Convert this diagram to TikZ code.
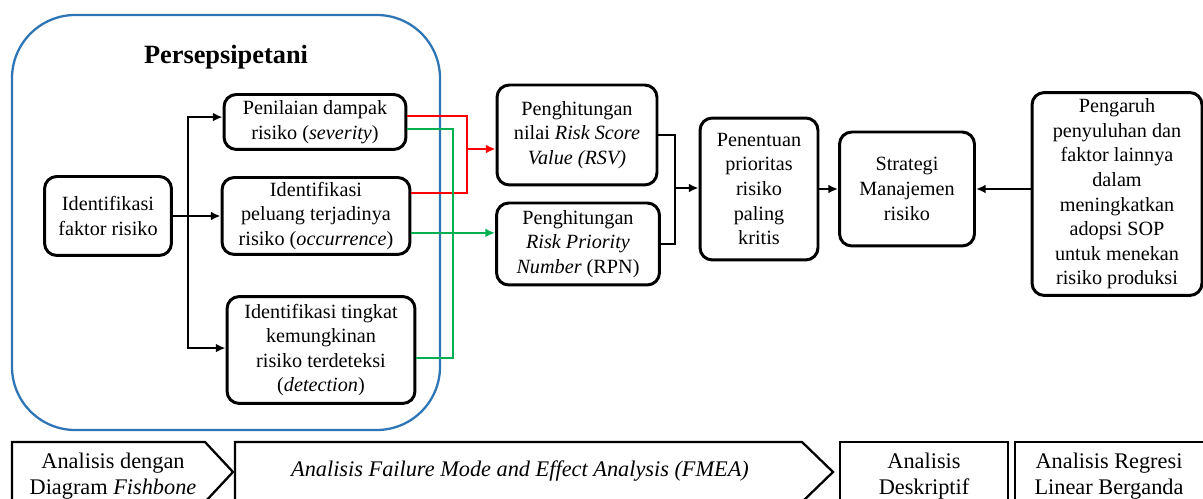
\documentclass[tikz,border=0pt]{standalone}
\usepackage{fontspec}
\setmainfont{Liberation Serif}
\usetikzlibrary{positioning, arrows.meta, calc}
\definecolor{frameblue}{RGB}{46,117,182}
\definecolor{lnred}{RGB}{255,0,0}
\definecolor{lngreen}{RGB}{0,176,80}

\begin{document}
\begin{tikzpicture}[x=0.02cm, y=-0.02cm,
    box/.style={draw, line width=1.7pt, rounded corners=7pt, align=center, inner sep=1pt,
      font=\fontsize{11.5}{14}\selectfont},
    conn/.style={line width=1.1pt},
    redln/.style={line width=1.3pt, lnred},
    grnln/.style={line width=1.3pt, lngreen},
    tip/.style={-{Latex[length=5.5pt,width=5pt]}},
    stage/.style={line width=1.3pt},
    stagetxt/.style={align=center, font=\fontsize{12.7}{14.7}\selectfont}]
    \path[use as bounding box, clip] (0,0) rectangle (1203,499);

    % Persepsi petani
    \draw[frameblue, line width=1.3pt, rounded corners=36pt] (12,15) rectangle (440,430);
    \node[font=\fontsize{15}{18}\selectfont\bfseries] (title) at (226,57) {Persepsipetani};

    \node[box, minimum width=2.54cm, minimum height=1.58cm] (fak) at (108,216) {Identifikasi\\ faktor risiko};
    \node[box, minimum width=3.64cm, minimum height=1.1cm] (pen) at (315,122) {Penilaian dampak\\ risiko (\textit{severity})};
    \node[box, minimum width=3.76cm, minimum height=1.54cm] (pel) at (316,216) {Identifikasi\\ peluang terjadinya\\ risiko (\textit{occurrence})};
    \node[box, minimum width=3.76cm, minimum height=2.14cm] (ting) at (321,350) {Identifikasi tingkat\\ kemungkinan\\ risiko terdeteksi\\ (\textit{detection})};

    % FMEA
    \node[box, minimum width=3.2cm, minimum height=2cm] (rsv) at (577,135) {Penghitungan\\ nilai \textit{Risk Score}\\ \textit{Value (RSV)}};
    \node[box, minimum width=3.26cm, minimum height=1.64cm] (rpn) at (578,244) {Penghitungan\\ \textit{Risk Priority}\\ \textit{Number} (RPN)};
    \node[box, minimum width=2.36cm, minimum height=2.84cm] (prior) at (759,189) {Penentuan\\ prioritas\\ risiko\\ paling\\ kritis};
    \node[box, minimum width=2.7cm, minimum height=2.28cm] (strat) at (907,189) {Strategi\\ Manajemen\\ risiko};
    \node[box, minimum width=3.4cm, minimum height=4.06cm] (peng) at (1117,194) {Pengaruh\\ penyuluhan dan\\ faktor lainnya\\ dalam\\ meningkatkan\\ adopsi SOP\\ untuk menekan\\ risiko produksi};

    % black connectors
    \coordinate (trunk) at (188,216);
    \draw[conn] (fak.east) -- (trunk);
    \draw[conn, tip] (trunk) |- ([yshift=2.8pt]pen.west);
    \draw[conn, tip] (trunk) -- (pel.west);
    \draw[conn, tip] (trunk) |- ([yshift=1.1pt]ting.west);

    % red lines
    \coordinate (rj) at (467,149);
    \draw[redln] ([yshift=3.4pt]pen.east) -| (rj) |- ([yshift=13pt]pel.east);
    \draw[redln, tip] (rj) -- (rj -| rsv.west);

    % green lines
    \coordinate (gj) at (453,358);
    \draw[grnln] ([yshift=-4pt]pen.east) -| (gj) -- (gj -| ting.east);
    \draw[grnln, tip] ([yshift=-9.6pt]pel.east) coordinate (g2) -- (g2 -| rpn.west);

    \coordinate (bj) at (675,188);
    \draw[conn] (rsv.east) -| (bj) |- (rpn.east);
    \draw[conn, tip] (bj) -- (bj -| prior.west);
    \draw[conn, tip] (prior.east) -- (prior.east -| strat.west);
    \draw[conn, tip] (strat.east -| peng.west) -- (strat.east);

    % stages
    \draw[stage] (12,442) -- (205,442) -- (233,472) -- (205,502) -- (12,502) -- cycle;
    \draw[stage] (235,442) -- (802,442) -- (833,472) -- (802,502) -- (235,502) -- cycle;
    \draw[stage] (840,442) rectangle (1008,506);
    \draw[stage] (1015,442) rectangle (1212,506);
    \node[stagetxt] (stg1) at (113,476) {Analisis dengan\\ Diagram \textit{Fishbone}};
    \node[stagetxt] (stg2) at (520,471) {\textit{Analisis Failure Mode and Effect Analysis (FMEA)}};
    \node[stagetxt] (stg3) at (924,476) {Analisis\\ Deskriptif};
    \node[stagetxt] (stg4) at (1109,476) {Analisis Regresi\\ Linear Berganda};
\end{tikzpicture}
\end{document}
